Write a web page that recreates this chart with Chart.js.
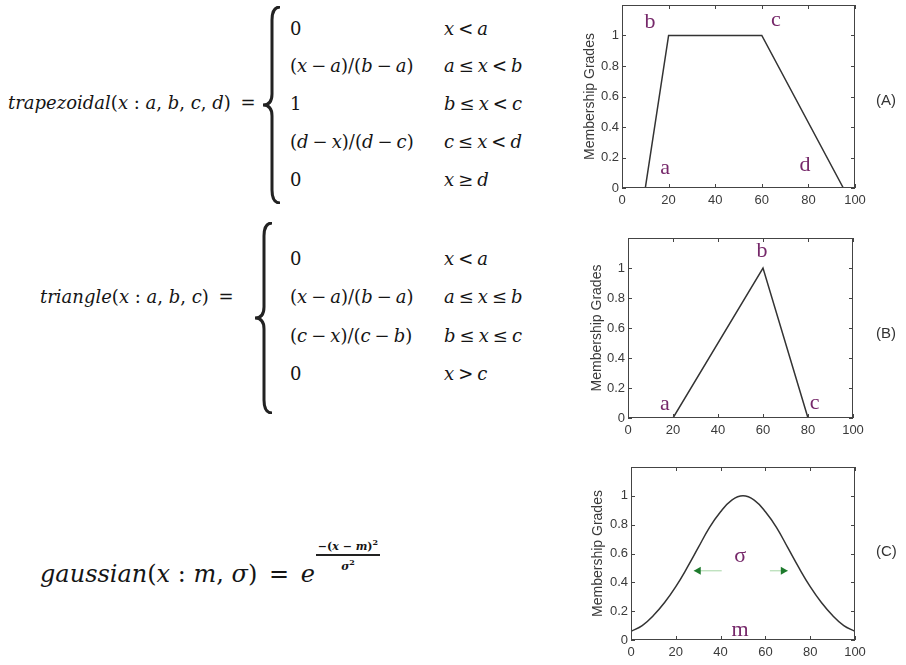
<!DOCTYPE html>
<html>
<head>
<meta charset="utf-8">
<script src="https://cdn.jsdelivr.net/npm/chart.js@4/dist/chart.umd.min.js"></script>
<style>
  body { margin: 0; background: #fff; }
  #page { position: relative; width: 906px; height: 665px; overflow: hidden; background: #fff; }
  .f { position: absolute; font-family: "DejaVu Serif", serif; font-size: 18px; line-height: 22px; color: #151515; white-space: nowrap; }
  .f i { font-style: italic; }
  .o { margin: 0 4px; }
  .tag { position: absolute; font-family: "Liberation Sans", Arial, sans-serif; font-size: 15px; color: #333; line-height: 18px; }
  canvas { position: absolute; }
  svg { position: absolute; }
  .frac { display: inline-block; vertical-align: 13px; text-align: center; font-size: 11px; line-height: 12px; font-weight: bold; margin-left: 1px; }
  .frac .num { display: block; border-bottom: 2px solid #222; padding: 0 2px 1px; }
  .frac .den { display: block; }
</style>
</head>
<body>
<div id="page">
  <!-- trapezoidal -->
  <div class="f" style="left:8px;top:92px"><i>trapezoidal</i>(<i>x</i> : <i>a</i>, <i>b</i>, <i>c</i>, <i>d</i>) <span class="o">=</span></div>
  <svg style="left:260px;top:6px" width="24" height="198"><path d="M20,1 Q12,1 12,14 L12,88 Q12,99 3,99 Q12,99 12,110 L12,184 Q12,197 20,197" fill="none" stroke="#222" stroke-width="3"/></svg>
  <div class="f" style="left:290px;top:18px">0</div>
  <div class="f" style="left:290px;top:55px">(<i>x</i><span class="o">−</span><i>a</i>)/(<i>b</i><span class="o">−</span><i>a</i>)</div>
  <div class="f" style="left:290px;top:93px">1</div>
  <div class="f" style="left:290px;top:131px">(<i>d</i><span class="o">−</span><i>x</i>)/(<i>d</i><span class="o">−</span><i>c</i>)</div>
  <div class="f" style="left:290px;top:169px">0</div>
  <div class="f" style="left:444px;top:18px"><i>x</i><span class="o">&lt;</span><i>a</i></div>
  <div class="f" style="left:444px;top:55px"><i>a</i><span class="o">≤</span><i>x</i><span class="o">&lt;</span><i>b</i></div>
  <div class="f" style="left:444px;top:93px"><i>b</i><span class="o">≤</span><i>x</i><span class="o">&lt;</span><i>c</i></div>
  <div class="f" style="left:444px;top:131px"><i>c</i><span class="o">≤</span><i>x</i><span class="o">&lt;</span><i>d</i></div>
  <div class="f" style="left:444px;top:169px"><i>x</i><span class="o">≥</span><i>d</i></div>

  <!-- triangle -->
  <div class="f" style="left:40px;top:286px"><i>triangle</i>(<i>x</i> : <i>a</i>, <i>b</i>, <i>c</i>) <span class="o">=</span></div>
  <svg style="left:252px;top:222px" width="24" height="192"><path d="M20,1 Q12,1 12,14 L12,85 Q12,96 3,96 Q12,96 12,107 L12,178 Q12,191 20,191" fill="none" stroke="#222" stroke-width="3"/></svg>
  <div class="f" style="left:290px;top:248px">0</div>
  <div class="f" style="left:290px;top:286px">(<i>x</i><span class="o">−</span><i>a</i>)/(<i>b</i><span class="o">−</span><i>a</i>)</div>
  <div class="f" style="left:290px;top:325px">(<i>c</i><span class="o">−</span><i>x</i>)/(<i>c</i><span class="o">−</span><i>b</i>)</div>
  <div class="f" style="left:290px;top:363px">0</div>
  <div class="f" style="left:444px;top:248px"><i>x</i><span class="o">&lt;</span><i>a</i></div>
  <div class="f" style="left:444px;top:286px"><i>a</i><span class="o">≤</span><i>x</i><span class="o">≤</span><i>b</i></div>
  <div class="f" style="left:444px;top:325px"><i>b</i><span class="o">≤</span><i>x</i><span class="o">≤</span><i>c</i></div>
  <div class="f" style="left:444px;top:363px"><i>x</i><span class="o">&gt;</span><i>c</i></div>

  <!-- gaussian -->
  <div class="f" style="left:40px;top:536px;font-size:24px;line-height:30px"><i>gaussian</i>(<i>x</i> : <i>m</i>, <i>σ</i>) <span class="o">=</span> <i>e</i><span class="frac"><span class="num">−(<i>x</i> − <i>m</i>)<sup style="font-size:8px">2</sup></span><span class="den"><i>σ</i><sup style="font-size:8px">2</sup></span></span></div>

  <canvas id="chartA" width="346" height="215" style="left:560px;top:0px"></canvas>
  <canvas id="chartB" width="346" height="215" style="left:560px;top:225px"></canvas>
  <canvas id="chartC" width="346" height="225" style="left:560px;top:440px"></canvas>

  <div class="tag" style="left:876px;top:91px">(A)</div>
  <div class="tag" style="left:876px;top:324px">(B)</div>
  <div class="tag" style="left:876px;top:542px">(C)</div>
</div>
<script>
// axis ticks shared by the three panels
const xTicks = [0, 20, 40, 60, 80, 100];
const yTicks = [0, 0.2, 0.4, 0.6, 0.8, 1];

// (A) trapezoid, a=10 b=20 c=60 d=95
const trapX = [0, 10, 20, 60, 95, 100];
const trapY = [0, 0, 1, 1, 0, 0];
const trapLetters = ['b', 'c', 'a', 'd'];
const trapLetterX = [12, 66, 18.5, 78.5];
const trapLetterY = [1.09, 1.1, 0.13, 0.15];

// (B) triangle, a=20 b=60 c=80
const triX = [0, 20, 60, 80, 100];
const triY = [0, 0, 1, 0, 0];
const triLetters = ['b', 'a', 'c'];
const triLetterX = [59.6, 16.4, 83];
const triLetterY = [1.11, 0.09, 0.1];

// (C) gaussian, every 5 units
const gaussX = [0, 5, 10, 15, 20, 25, 30, 35, 40, 45, 50, 55, 60, 65, 70, 75, 80, 85, 90, 95, 100];
const gaussY = [0.06, 0.1, 0.17, 0.26, 0.37, 0.5, 0.64, 0.78, 0.89, 0.97, 1, 0.97, 0.89, 0.78, 0.64, 0.5, 0.37, 0.26, 0.17, 0.1, 0.06];
const gaussLetters = ['σ', 'm'];
const gaussLetterX = [48.7, 48.7];
const gaussLetterY = [0.58, 0.07];
// sigma arrows (from -> to, at height arrowY)
const arrowFromX = [40.5, 62];
const arrowToX = [28, 70];
const arrowY = 0.48;

const tickFont = { family: '"Liberation Sans", Arial, sans-serif', size: 13 };
const titleFont = { family: '"Liberation Sans", Arial, sans-serif', size: 14 };
const axisColor = '#3a3a3a';

// frame, inward tick marks, letters and arrows
const decorPlugin = {
    id: 'decor',
    afterDatasetsDraw(chart, args, opts) {
        const { ctx, chartArea: a } = chart;
        const xs = chart.scales.x, ys = chart.scales.y;
        ctx.save();
        ctx.strokeStyle = '#444';
        ctx.lineWidth = 1;
        ctx.strokeRect(a.left + 0.5, a.top + 0.5, a.right - a.left - 1, a.bottom - a.top - 1);
        ctx.beginPath();
        xTicks.forEach(v => {
            const px = Math.round(xs.getPixelForValue(v)) + 0.5;
            ctx.moveTo(px, a.bottom); ctx.lineTo(px, a.bottom - 4);
            ctx.moveTo(px, a.top); ctx.lineTo(px, a.top + 4);
        });
        yTicks.forEach(v => {
            const py = Math.round(ys.getPixelForValue(v)) + 0.5;
            ctx.moveTo(a.left, py); ctx.lineTo(a.left + 4, py);
            ctx.moveTo(a.right, py); ctx.lineTo(a.right - 4, py);
        });
        ctx.stroke();

        if (opts.arrows) {
            const py = ys.getPixelForValue(opts.arrows.y);
            opts.arrows.from.forEach((fx, i) => {
                const x0 = xs.getPixelForValue(fx);
                const x1 = xs.getPixelForValue(opts.arrows.to[i]);
                ctx.strokeStyle = '#a6d6a6';
                ctx.lineWidth = 1;
                ctx.beginPath();
                ctx.moveTo(x0, py); ctx.lineTo(x1, py);
                ctx.stroke();
                const dir = x1 < x0 ? 1 : -1;
                ctx.fillStyle = '#1d7a2c';
                ctx.beginPath();
                ctx.moveTo(x1, py);
                ctx.lineTo(x1 + dir * 7, py - 4);
                ctx.lineTo(x1 + dir * 7, py + 4);
                ctx.closePath();
                ctx.fill();
            });
        }

        ctx.fillStyle = '#76286a';
        ctx.font = '22px "Liberation Serif", serif';
        ctx.textAlign = 'center';
        ctx.textBaseline = 'middle';
        opts.text.forEach((t, i) => {
            ctx.fillText(t, xs.getPixelForValue(opts.tx[i]), ys.getPixelForValue(opts.ty[i]));
        });
        ctx.restore();
    }
};

function makeChart(id, xs, ys, tension, decor, box) {
    const points = xs.map((x, i) => ({ x, y: ys[i] }));
    return new Chart(document.getElementById(id), {
        type: 'line',
        data: {
            datasets: [{
                data: points,
                borderColor: '#333',
                borderWidth: 1.5,
                pointRadius: 0,
                tension: tension
            }]
        },
        options: {
            responsive: false,
            animation: false,
            layout: { padding: { left: box.left, top: box.top, right: box.right, bottom: 0 } },
            plugins: { legend: { display: false }, tooltip: { enabled: false }, decor },
            scales: {
                x: {
                    type: 'linear',
                    min: 0,
                    max: 100,
                    afterBuildTicks: s => { s.ticks = xTicks.map(v => ({ value: v })); },
                    afterFit: s => { s.height = box.xh; s.paddingLeft = 0; s.paddingRight = 0; },
                    grid: { display: false, drawTicks: false },
                    border: { display: false },
                    ticks: { color: axisColor, font: tickFont, padding: 5, maxRotation: 0, autoSkip: false }
                },
                y: {
                    min: 0,
                    max: 1.2,
                    afterBuildTicks: s => { s.ticks = yTicks.map(v => ({ value: v })); },
                    afterFit: s => { s.width = box.yw; s.paddingTop = 0; s.paddingBottom = 0; },
                    grid: { display: false, drawTicks: false },
                    border: { display: false },
                    title: { display: true, text: 'Membership Grades', color: axisColor, font: titleFont, padding: 0 },
                    ticks: {
                        color: axisColor, font: tickFont, padding: 3, autoSkip: false,
                        callback: v => String(Math.round(v * 10) / 10)
                    }
                }
            }
        },
        plugins: [decorPlugin]
    });
}

makeChart('chartA', trapX, trapY, 0,
    { text: trapLetters, tx: trapLetterX, ty: trapLetterY },
    { left: 22, top: 5, right: 51, yw: 40, xh: 27 });

makeChart('chartB', triX, triY, 0,
    { text: triLetters, tx: triLetterX, ty: triLetterY },
    { left: 29, top: 13, right: 53, yw: 39, xh: 22 });

makeChart('chartC', gaussX, gaussY, 0.4,
    { text: gaussLetters, tx: gaussLetterX, ty: gaussLetterY,
      arrows: { from: arrowFromX, to: arrowToX, y: arrowY } },
    { left: 30, top: 27, right: 51, yw: 41, xh: 25 });
</script>
</body>
</html>
